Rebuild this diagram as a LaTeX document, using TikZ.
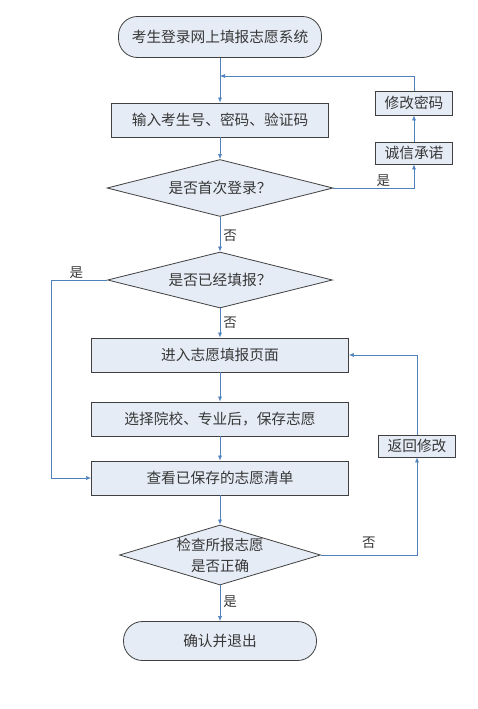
\documentclass[tikz,border=0pt]{standalone}
\usepackage{fontspec}
\newfontfamily\cjk{Noto Sans CJK SC}
\usetikzlibrary{positioning, arrows.meta, shapes.geometric}
\definecolor{boxfill}{RGB}{230,236,246}
\definecolor{flowline}{RGB}{79,129,189}
\definecolor{boxtext}{RGB}{55,55,55}

\begin{document}
\begin{tikzpicture}[x=1pt, y=-1pt,
    base/.style={draw=black!75, line width=0.8pt, fill=boxfill, text=boxtext, font=\cjk\fontsize{14.7}{20}\selectfont, inner sep=0pt},
    term/.style={base, rounded corners=19pt},
    proc/.style={base},
    small/.style={base},
    decide/.style={base, diamond, aspect=4},
    flow/.style={-{Latex[length=5pt, width=4pt]}, flowline, semithick},
    lbl/.style={font=\cjk\fontsize{13.5}{15}\selectfont, text=boxtext, inner sep=1pt},
]
    \useasboundingbox (0,0) rectangle (478,709);
    \node[term, minimum width=203pt, minimum height=41pt] (start) at (220,37) {考生登录网上填报志愿系统};
    \node[proc, minimum width=217pt, minimum height=34pt] (input) at (220,120) {输入考生号、密码、验证码};
    \node[decide, minimum width=226pt, minimum height=57pt] (first) at (220,188) {是否首次登录？};
    \node[small, minimum width=77pt, minimum height=24pt] (chpwd) at (414,103) {修改密码};
    \node[small, minimum width=77pt, minimum height=22pt] (promise) at (414,153) {诚信承诺};
    \node[decide, minimum width=225pt, minimum height=56pt] (filled) at (220,280) {是否已经填报？};
    \node[proc, minimum width=257pt, minimum height=34pt] (enter) at (220,355) {进入志愿填报页面};
    \node[proc, minimum width=257pt, minimum height=34pt] (choose) at (220,419) {选择院校、专业后，保存志愿};
    \node[proc, minimum width=257pt, minimum height=34pt] (view) at (220,478) {查看已保存的志愿清单};
    \node[small, minimum width=77pt, minimum height=22pt] (back) at (417,446) {返回修改};
    \node[decide, minimum width=201pt, minimum height=60pt,
        label={[font=\cjk\fontsize{14.5}{21}\selectfont, text=boxtext, align=center]center:检查所报志愿\\是否正确}] (check) at (220,555) {};
    \node[term, minimum width=193pt, minimum height=39pt] (finish) at (220,641) {确认并退出};

    \coordinate (join) at (220,76);
    \draw[flowline, semithick] (start) -- (join);
    \draw[flow] (join) -- (input);
    \draw[flow] (input) -- (first);
    \draw[flow] (first.east) -| node[lbl, pos=0.31, above] {是} (promise);
    \draw[flow] (promise) -- (chpwd);
    \draw[flow] (chpwd.north) |- (join);
    \draw[flow] (first) -- node[lbl, right=2pt, pos=0.55] {否} (filled);
    \draw[flow] (filled) -- node[lbl, right=2pt, pos=0.5] {否} (enter);
    \draw[flow] (filled.west) -- ++(-56,0) node[lbl, above, pos=0.55] {是} |- (view.west);
    \draw[flow] (enter) -- (choose);
    \draw[flow] (choose) -- (view);
    \draw[flow] (view) -- (check);
    \draw[flow] (check.east) -| node[lbl, pos=0.25, above=5pt] {否} (back);
    \draw[flow] (back.north) |- (enter.east);
    \draw[flow] (check) -- node[lbl, right=2pt, pos=0.45] {是} (finish);
\end{tikzpicture}
\end{document}
